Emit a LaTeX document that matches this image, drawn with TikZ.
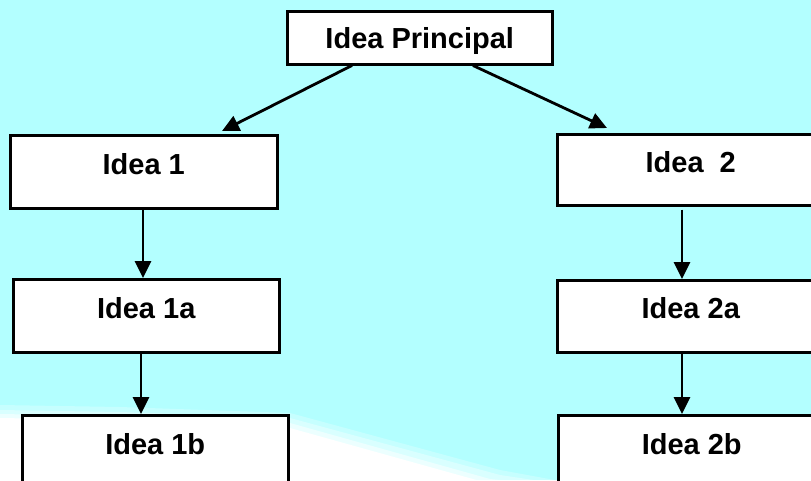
\documentclass[tikz,border=0pt]{standalone}
\usepackage{fontspec}
\setmainfont{Liberation Sans}
\usetikzlibrary{arrows.meta,calc}
\definecolor{bgcyan}{RGB}{179,255,255}
\tikzset{
  idea/.style={draw=black,line width=2.5pt,fill=white,inner sep=0pt,anchor=north west,
    font=\fontsize{29}{32}\selectfont\bfseries,align=center},
  conn/.style={line width=2.8pt,-{Triangle[length=17pt 0 0,width=16pt 0 0]}},
}
\begin{document}
\begin{tikzpicture}[x=1pt,y=-1pt]
\useasboundingbox (0,0) rectangle (811,480);
\clip (0,0) rectangle (811,480);
\fill[bgcyan] (0,0) rectangle (811,480);
% white swoosh with soft edge
\fill[white,opacity=0.25] (0,405) -- (120,407) -- (290,413) -- (500,470) -- (560,481) -- (0,481) -- cycle;
\fill[white,opacity=0.35] (0,410) -- (120,412) -- (290,418) -- (500,475) -- (540,481) -- (0,481) -- cycle;
\fill[white,opacity=0.5] (0,414) -- (120,416) -- (290,423) -- (490,479) -- (510,481) -- (0,481) -- cycle;
\fill[white] (0,418) -- (120,420) -- (290,428) -- (480,481) -- (0,481) -- cycle;
% boxes
\node[idea,minimum width=265pt,text height=37pt,text depth=16pt] (main) at (286,10) {Idea Principal};
\node[idea,minimum width=267pt,text height=39pt,text depth=34pt] (i1) at (9,134) {Idea 1};
\node[idea,minimum width=267pt,text height=38pt,text depth=33pt] (i2) at (556,133) {Idea\ \ 2};
\node[idea,minimum width=266pt,text height=39pt,text depth=34pt] (i1a) at (12,278) {Idea 1a};
\node[idea,minimum width=267pt,text height=38pt,text depth=34pt] (i2a) at (556,279) {Idea 2a};
\node[idea,minimum width=266pt,text height=39pt,text depth=40pt] (i1b) at (21,414) {Idea 1b};
\node[idea,minimum width=267pt,text height=39pt,text depth=40pt] (i2b) at (557,414) {Idea 2b};
% connector end points
\coordinate (mL) at ($(main.south west)+(66,0)$);
\coordinate (mR) at ($(main.south west)+(187,0)$);
\coordinate (t1) at ($(i1.north west)+(213,-3)$);
\coordinate (t2) at ($(i2.north west)+(51,-5)$);
\draw[conn] (mL) -- (t1);
\draw[conn] (mR) -- (t2);
\draw[conn] ($(i1.south west)+(134,0)$) coordinate (s1) -- (s1 |- i1a.north);
\draw[conn] ($(i2.south west)+(126,3)$) coordinate (s2) -- (s2 |- i2a.north);
\draw[conn] ($(i1a.south west)+(129,0)$) coordinate (s3) -- (s3 |- i1b.north);
\draw[conn] ($(i2a.south west)+(126,0)$) coordinate (s4) -- (s4 |- i2b.north);
\end{tikzpicture}
\end{document}
